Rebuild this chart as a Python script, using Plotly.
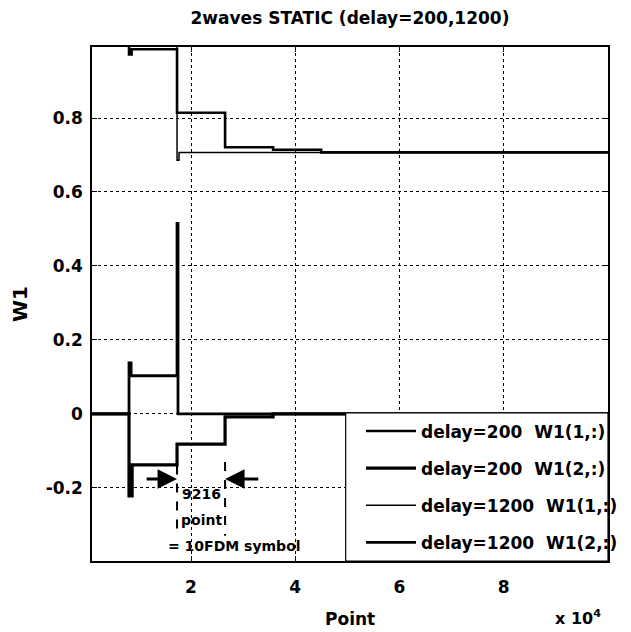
import plotly.graph_objects as go

# ---- data ----
d200_w11_x = [0, 8100, 8600, 17316, 26532, 35748, 44964, 100000]
d200_w11_y = [1.0, 0.972, 0.986, 0.814, 0.721, 0.714, 0.707, 0.707]

d200_w12_x = [0, 8100, 8700, 17316, 26532, 35748, 100000]
d200_w12_y = [0.0, -0.222, -0.138, -0.082, -0.008, 0.0, 0.0]

d1200_w11_x = [0, 17316, 17700, 100000]
d1200_w11_y = [1.0, 0.686, 0.707, 0.707]

d1200_w12_x = [0, 8100, 8500, 17316, 17500, 100000]
d1200_w12_y = [0.0, 0.138, 0.103, 0.515, 0.0, 0.0]

series_names = ["delay=200\u00a0\u00a0W1(1,:)", "delay=200\u00a0\u00a0W1(2,:)",
                "delay=1200\u00a0\u00a0W1(1,:)", "delay=1200\u00a0\u00a0W1(2,:)"]

x_tickvals = [20000, 40000, 60000, 80000]
x_ticktext = ["2", "4", "6", "8"]
y_tickvals = [-0.2, 0, 0.2, 0.4, 0.6, 0.8]
y_ticktext = ["-0.2", "0", "0.2", "0.4", "0.6", "0.8"]

sym_points = 9216
sym_start = d200_w12_x[3]
sym_end = d200_w12_x[4]

FONT = "DejaVu Sans"
OFF = 8  # page body margin offset

fig = go.Figure()
widths = [2.6, 3.2, 1.5, 2.8]
data = [(d200_w11_x, d200_w11_y), (d200_w12_x, d200_w12_y),
        (d1200_w11_x, d1200_w11_y), (d1200_w12_x, d1200_w12_y)]
for i, ((xs, ys), nm) in enumerate(zip(data, series_names)):
    fig.add_trace(go.Scatter(x=xs, y=ys, mode="lines", name=nm,
                             line=dict(color="black", width=widths[i], shape="hv"),
                             legendgroup=f"g{i}"))

# target page geometry
PL, PR, PT, PB = 84, 623, 47, 561
W, H = 631 - OFF, 632 - OFF
L, T = PL - OFF, PT - OFF
R, B = W - (PR - OFF), H - (PB - OFF)
pw, ph = PR - PL, PB - PT

def px_x(p):
    return (p - PL) / pw

def px_y(p):
    return (PB - p) / ph

fig.update_layout(
    width=W, height=H,
    margin=dict(l=L, r=R, t=T, b=B),
    paper_bgcolor="white", plot_bgcolor="white",
    font=dict(family=FONT, size=17, color="black", weight="bold"),
    title=dict(text="2waves STATIC (delay=200,1200)", x=0.5, xref="paper",
               y=1 - (18 - OFF) / H, yref="container", yanchor="middle", xanchor="center",
               font=dict(size=17, family=FONT, weight="bold")),
    showlegend=True,
    legend=dict(x=px_x(365), xanchor="left", y=px_y(487), yanchor="middle",
                bgcolor="rgba(0,0,0,0)", borderwidth=0, itemwidth=50,
                traceorder="grouped", tracegroupgap=12,
                font=dict(size=17, family=FONT, weight="bold")),
    xaxis=dict(range=[1000, 100000], tickvals=x_tickvals, ticktext=x_ticktext,
               showgrid=True, gridcolor="black", griddash="dot", gridwidth=1,
               zeroline=False, showline=True, linecolor="black", linewidth=1.5,
               mirror="ticks", ticks="inside", ticklen=5, tickcolor="black",
               ticklabelstandoff=10),
    yaxis=dict(range=[-0.398, 0.992], tickvals=y_tickvals, ticktext=y_ticktext,
               showgrid=True, gridcolor="black", griddash="dot", gridwidth=1,
               zeroline=False, showline=True, linecolor="black", linewidth=1.5,
               mirror="ticks", ticks="inside", ticklen=5, tickcolor="black",
               ticklabelstandoff=4,
               title=dict(text="W1", standoff=16)),
)

# legend box
fig.add_shape(type="rect", xref="paper", yref="paper",
              x0=px_x(349), x1=1, y0=0, y1=px_y(413),
              line=dict(color="black", width=1.2), fillcolor="white", layer="above")

# 9216-point bracket
for xv, y0 in [(sym_start, -0.14), (sym_end, -0.13)]:
    fig.add_shape(type="line", xref="x", yref="y", x0=xv, x1=xv, y0=y0, y1=-0.33,
                  line=dict(color="black", width=2, dash="dash"), layer="above")

fig.add_annotation(x=sym_start, y=-0.176, ax=11200, ay=-0.176, axref="x", ayref="y",
                   xref="x", yref="y", text="", showarrow=True, arrowhead=2,
                   arrowsize=1.3, arrowwidth=3, arrowcolor="black")
fig.add_annotation(x=sym_end, y=-0.176, ax=33200, ay=-0.176, axref="x", ayref="y",
                   xref="x", yref="y", text="", showarrow=True, arrowhead=2,
                   arrowsize=1.3, arrowwidth=3, arrowcolor="black")

mid = (sym_start + sym_end) / 2
fig.add_annotation(x=mid, y=-0.217, xref="x", yref="y", text=str(sym_points),
                   showarrow=False, font=dict(size=14, family=FONT, weight="bold"))
fig.add_annotation(x=mid, y=-0.287, xref="x", yref="y", text="point",
                   showarrow=False, font=dict(size=14, family=FONT, weight="bold"))
fig.add_annotation(x=28300, y=-0.358, xref="x", yref="y", text="= 10FDM symbol",
                   showarrow=False, font=dict(size=14, family=FONT, weight="bold"))

# x axis label and exponent
fig.add_annotation(x=0.5, y=px_y(619), xref="paper", yref="paper", text="Point",
                   showarrow=False, yanchor="middle", xanchor="center",
                   font=dict(size=17, family=FONT, weight="bold"))
fig.add_annotation(x=px_x(592), y=px_y(617), xref="paper", yref="paper",
                   text="x 10<sup>4</sup>", showarrow=False, yanchor="middle",
                   xanchor="center", font=dict(size=16, family=FONT, weight="bold"))

fig.write_html("out.html")
